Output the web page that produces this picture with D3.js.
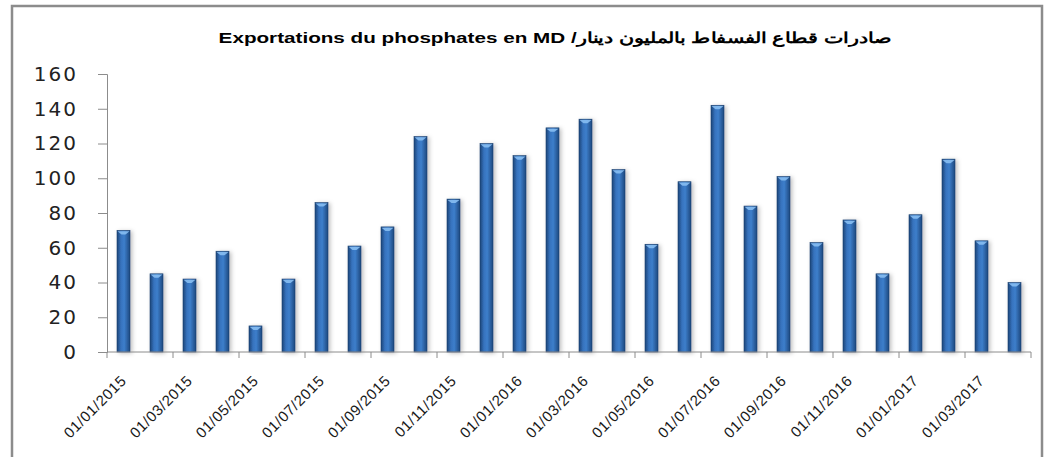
<!DOCTYPE html>
<meta charset="utf-8">
<style>
body { margin:0; background:#fff; }
</style>
<script src="https://d3js.org/d3.v7.min.js"></script>
<body>
<script>

var width = 1046, height = 457

// monthly exports, 01/2015 -> 04/2017
var months = ["01/01/2015","01/02/2015","01/03/2015","01/04/2015","01/05/2015","01/06/2015","01/07/2015","01/08/2015","01/09/2015","01/10/2015","01/11/2015","01/12/2015",
  "01/01/2016","01/02/2016","01/03/2016","01/04/2016","01/05/2016","01/06/2016","01/07/2016","01/08/2016","01/09/2016","01/10/2016","01/11/2016","01/12/2016",
  "01/01/2017","01/02/2017","01/03/2017","01/04/2017"]
var values = [70,45,42,58,15,42,86,61,72,124,88,120,113,129,134,105,62,98,142,84,101,63,76,45,79,111,64,40]
var yTicks = [0,20,40,60,80,100,120,140,160]
var title = "صادرات قطاع الفسفاط بالمليون دينار/ Exportations du phosphates en MD"

var svg = d3.select("body").append("svg").attr("width",width).attr("height",height)

var defs = svg.append("defs")
var grad = defs.append("linearGradient").attr("id","barg").attr("x1","0").attr("x2","1").attr("y1","0").attr("y2","0")
grad.append("stop").attr("offset","0%").attr("stop-color","#1c4577")
grad.append("stop").attr("offset","30%").attr("stop-color","#3672bd")
grad.append("stop").attr("offset","55%").attr("stop-color","#3d7ecb")
grad.append("stop").attr("offset","100%").attr("stop-color","#1d497f")
var sh = defs.append("filter").attr("id","shadow").attr("x","-50%").attr("y","-10%").attr("width","200%").attr("height","120%")
sh.append("feDropShadow").attr("dx",2).attr("dy",1).attr("stdDeviation",2).attr("flood-color","#000").attr("flood-opacity",0.25)

// frame
svg.append("rect").attr("x",12).attr("y",6).attr("width",1030).attr("height",470)
  .attr("fill","none").attr("stroke","#8c8c8c").attr("stroke-width",2.5)

// title, stretched horizontally like the original picture
var tg = svg.append("g")
var tt = tg.append("text")
  .attr("x",0).attr("y",0)
  .attr("text-anchor","middle")
  .attr("direction","rtl")
  .style("font","bold 15px 'Liberation Sans', Arial, sans-serif")
  .text(title)
var tw = tt.node().getComputedTextLength()
tg.attr("transform","translate(555,43) scale("+(684/tw)+",1)")

var x = d3.scaleBand().domain(months).range([107,1031]).padding(0)
var y = d3.scaleLinear().domain([0,160]).range([352,74])

var g = svg.append("g")

g.selectAll("rect.bar").data(values).enter().append("rect")
  .attr("class","bar")
  .attr("x",(d,i)=>x(months[i])+x.bandwidth()/2-6.5)
  .attr("width",13)
  .attr("y",d=>y(d))
  .attr("height",d=>y(0)-y(d))
  .attr("fill","url(#barg)")
  .attr("stroke","#1a3f6e").attr("stroke-width",0.6)
  .attr("filter","url(#shadow)")

// light cap on top of each bar
g.selectAll("path.cap").data(values).enter().append("path")
  .attr("class","cap")
  .attr("d",(d,i)=>{
    var cx = x(months[i])+x.bandwidth()/2, ty = y(d)
    return "M"+(cx-6)+","+(ty+0.8)+" L"+(cx+6)+","+(ty+0.8)+" L"+(cx+2)+","+(ty+4)+" L"+(cx-2)+","+(ty+4)+"Z"
  })
  .attr("fill","#8cc2f5").attr("opacity",0.85)

// y axis
var yAxis = d3.axisLeft(y).tickValues(yTicks).tickSize(9).tickPadding(20)
var ya = svg.append("g").attr("transform","translate(107,0)").call(yAxis)
ya.select(".domain").attr("stroke","#8c8c8c")
ya.selectAll(".tick line").attr("stroke","#8c8c8c")
ya.selectAll("text").attr("fill","#222")
  .style("font","20px 'DejaVu Sans', sans-serif").style("letter-spacing","2px")

// x axis: ticks every two months on the band edges
var xa = svg.append("g").attr("transform","translate(0,352)")
xa.append("line").attr("x1",107).attr("x2",1031).attr("stroke","#8c8c8c")
var edges = months.filter((d,i)=>i%2==0).map(d=>x(d)).concat([x.range()[1]])
xa.selectAll("line.tk").data(edges).enter().append("line").attr("class","tk")
  .attr("x1",d=>d).attr("x2",d=>d).attr("y1",0).attr("y2",6).attr("stroke","#8c8c8c")

xa.selectAll("text").data(months.filter((d,i)=>i%2==0)).enter().append("text")
  .attr("transform",d=>"translate("+(x(d)+x.bandwidth()/2)+",26) rotate(-45)")
  .attr("text-anchor","end")
  .attr("dy","0.35em")
  .attr("fill","#1a1a1a")
  .style("font","15px 'Liberation Sans', Arial, sans-serif")
  .style("letter-spacing","0.6px")
  .text(d=>d)

</script>
</body>
